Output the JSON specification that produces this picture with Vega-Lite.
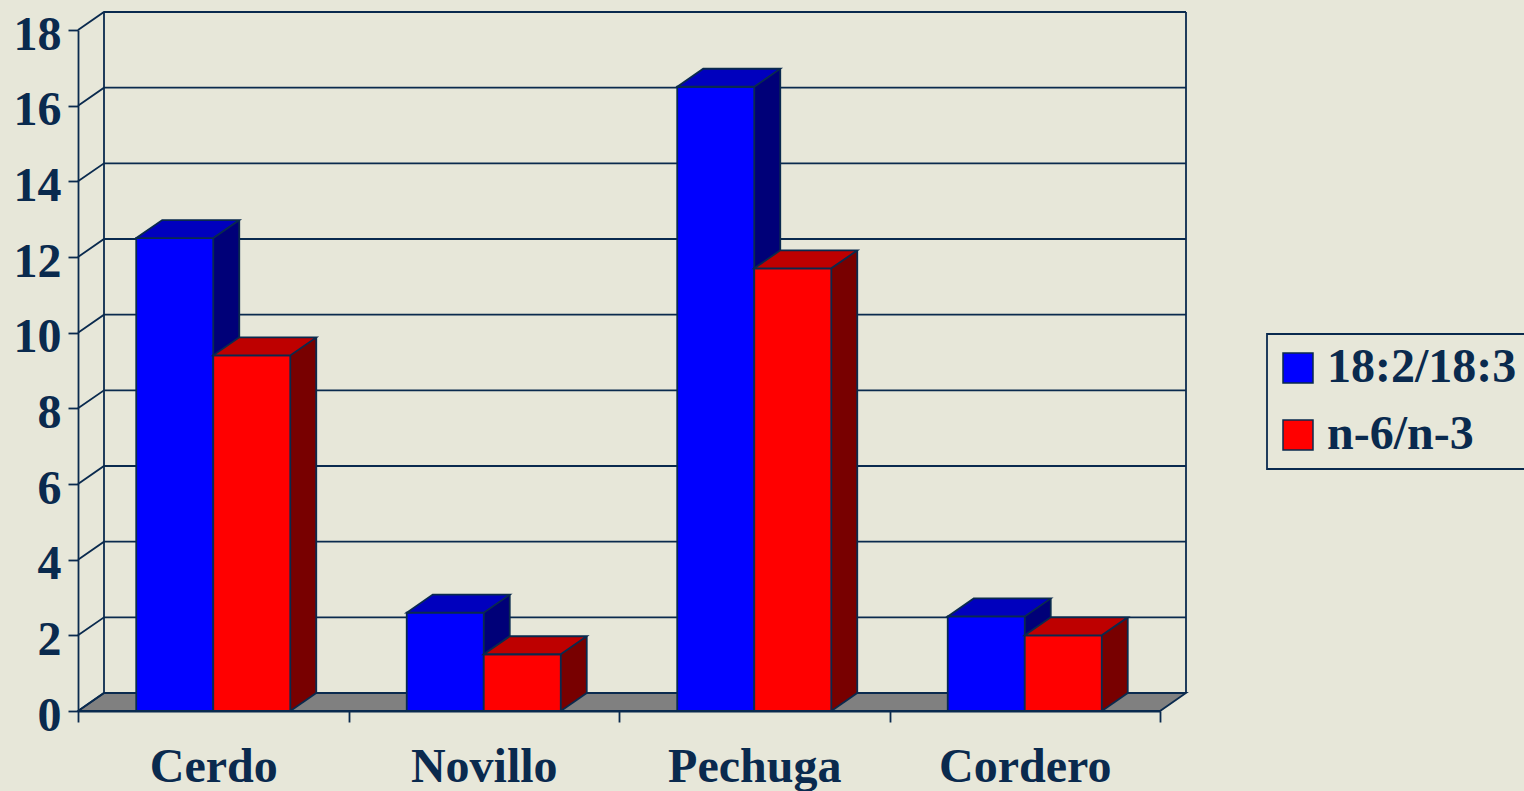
{
  "$schema": "https://vega.github.io/schema/vega-lite/v6.json",
  "width": 1082,
  "height": 681,
  "autosize": "none",
  "padding": {"left": 78, "top": 30, "right": 364, "bottom": 80},
  "background": "#E7E7D9",
  "config": {
    "view": {"stroke": null},
    "axisX": {"domainColor": "#0A2A4E", "domainWidth": 1.8, "tickColor": "#0A2A4E", "tickWidth": 1.8, "tickSize": 11, "tickBand": "extent", "labelFont": "Liberation Serif", "labelFontWeight": "bold", "labelFontSize": 48, "labelColor": "#0A2A4E", "labelPadding": 21, "labelAngle": 0, "grid": false},
    "axisY": {"domainColor": "#0A2A4E", "domainWidth": 1.8, "tickColor": "#0A2A4E", "tickWidth": 1.8, "tickSize": 10, "labelFont": "Liberation Serif", "labelFontWeight": "bold", "labelFontSize": 48, "labelColor": "#0A2A4E", "labelPadding": 7, "labelOffset": 5, "tickCount": 9, "grid": false, "labelOverlap": false, "labelFlush": false},
    "legend": {"padding": 10, "strokeColor": "#0A2A4E", "strokeWidth": 1.8, "symbolType": "square", "symbolSize": 900, "symbolStrokeColor": "#0A2A4E", "symbolStrokeWidth": 1.5, "symbolOpacity": 1, "symbolOffset": -3, "labelFont": "Liberation Serif", "labelFontWeight": "bold", "labelFontSize": 48, "labelColor": "#0A2A4E", "labelOffset": 5, "rowPadding": 19, "labelLimit": 0}
  },
  "datasets": {
    "bars": [
      {"cat": "Cerdo", "series": "18:2/18:3", "value": 12.5},
      {"cat": "Cerdo", "series": "n-6/n-3", "value": 9.4},
      {"cat": "Novillo", "series": "18:2/18:3", "value": 2.6},
      {"cat": "Novillo", "series": "n-6/n-3", "value": 1.5},
      {"cat": "Pechuga", "series": "18:2/18:3", "value": 16.5},
      {"cat": "Pechuga", "series": "n-6/n-3", "value": 11.7},
      {"cat": "Cordero", "series": "18:2/18:3", "value": 2.5},
      {"cat": "Cordero", "series": "n-6/n-3", "value": 2.0}
    ],
    "ticks": [{"v": 0}, {"v": 2}, {"v": 4}, {"v": 6}, {"v": 8}, {"v": 10}, {"v": 12}, {"v": 14}, {"v": 16}, {"v": 18}],
    "one": [{"k": 1}]
  },
  "layer": [
    {
      "data": {"name": "one"},
      "mark": {"type": "point", "shape": "M0,0L1082,0L1108,-18L26,-18Z", "size": 4, "filled": true, "fill": "#808080", "stroke": "#0A2A4E", "strokeWidth": 1.8, "opacity": 1},
      "encoding": {
        "x": {"datum": "Cerdo", "bandPosition": 0, "title": null, "scale": {"domain": ["Cerdo", "Novillo", "Pechuga", "Cordero"], "paddingInner": 0, "paddingOuter": 0}},
        "y": {"datum": 0, "type": "quantitative", "title": null, "scale": {"domain": [0, 18], "nice": false}}
      }
    },
    {
      "data": {"name": "ticks"},
      "mark": {"type": "point", "shape": "M0,0L26,-18L1108,-18", "size": 4, "filled": false, "stroke": "#0A2A4E", "strokeWidth": 1.8, "opacity": 1},
      "encoding": {
        "x": {"datum": "Cerdo", "bandPosition": 0, "title": null},
        "y": {"field": "v", "type": "quantitative", "title": null}
      }
    },
    {
      "data": {"name": "one"},
      "mark": {"type": "rule", "stroke": "#0A2A4E", "strokeWidth": 1.8, "xOffset": 26, "yOffset": -18, "y2Offset": -18},
      "encoding": {
        "x": {"datum": "Cerdo", "bandPosition": 0, "title": null},
        "y": {"datum": 0, "type": "quantitative", "title": null},
        "y2": {"datum": 18}
      }
    },
    {
      "data": {"name": "one"},
      "mark": {"type": "rule", "stroke": "#0A2A4E", "strokeWidth": 1.8, "xOffset": 26, "yOffset": -18, "y2Offset": -18},
      "encoding": {
        "x": {"datum": "Cordero", "bandPosition": 1, "title": null},
        "y": {"datum": 0, "type": "quantitative", "title": null},
        "y2": {"datum": 18}
      }
    },
    {
      "data": {"name": "bars"},
      "transform": [{"filter": "datum.series === '18:2/18:3'"}],
      "mark": {"type": "bar", "width": 26, "xOffset": 13, "yOffset": -18, "y2Offset": -18, "strokeWidth": 0, "fill": "#000078", "opacity": 1},
      "encoding": {
        "x": {"field": "cat", "type": "nominal", "title": null},
        "y": {"field": "value", "type": "quantitative", "title": null, "stack": null},
        "y2": {"datum": 0}
      }
    },
    {
      "data": {"name": "bars"},
      "transform": [{"filter": "datum.series === 'n-6/n-3'"}],
      "mark": {"type": "bar", "width": 26, "xOffset": 90, "yOffset": -18, "y2Offset": -18, "strokeWidth": 0, "fill": "#780000", "opacity": 1},
      "encoding": {
        "x": {"field": "cat", "type": "nominal", "title": null},
        "y": {"field": "value", "type": "quantitative", "title": null, "stack": null},
        "y2": {"datum": 0}
      }
    },
    {
      "data": {"name": "bars"},
      "mark": {"type": "point", "shape": "M38,0.5L65,-18.5L38,-19Z", "size": 4, "filled": true, "strokeWidth": 0, "opacity": 1},
      "encoding": {
        "x": {"field": "cat", "type": "nominal", "title": null},
        "xOffset": {"field": "series", "type": "nominal", "sort": ["18:2/18:3", "n-6/n-3"], "scale": {"paddingInner": 0, "paddingOuter": 0.756}},
        "y": {"datum": 0, "type": "quantitative", "title": null},
        "fill": {"condition": {"test": "datum.series === 'n-6/n-3'", "value": "#780000"}, "value": "#000078"}
      }
    },
    {
      "data": {"name": "bars"},
      "transform": [{"filter": "datum.series === '18:2/18:3'"}],
      "mark": {"type": "rule", "stroke": "#0A2A4E", "strokeWidth": 1.8, "xOffset": 26, "yOffset": -18, "y2Offset": -18},
      "encoding": {
        "x": {"field": "cat", "type": "nominal", "title": null},
        "y": {"field": "value", "type": "quantitative", "title": null, "stack": null},
        "y2": {"datum": 0}
      }
    },
    {
      "data": {"name": "bars"},
      "transform": [{"filter": "datum.series === 'n-6/n-3'"}],
      "mark": {"type": "rule", "stroke": "#0A2A4E", "strokeWidth": 1.8, "xOffset": 103, "yOffset": -18, "y2Offset": -18},
      "encoding": {
        "x": {"field": "cat", "type": "nominal", "title": null},
        "y": {"field": "value", "type": "quantitative", "title": null, "stack": null},
        "y2": {"datum": 0}
      }
    },
    {
      "data": {"name": "bars"},
      "mark": {"type": "point", "shape": "M38.5,0L64.5,-18", "size": 4, "filled": false, "stroke": "#0A2A4E", "strokeWidth": 1.8, "opacity": 1},
      "encoding": {
        "x": {"field": "cat", "type": "nominal", "title": null},
        "xOffset": {"field": "series", "type": "nominal", "sort": ["18:2/18:3", "n-6/n-3"]},
        "y": {"datum": 0, "type": "quantitative", "title": null}
      }
    },
    {
      "data": {"name": "bars"},
      "mark": {"type": "bar", "stroke": "#0A2A4E", "strokeWidth": 1.8, "opacity": 1},
      "encoding": {
        "x": {"field": "cat", "type": "nominal", "title": null},
        "xOffset": {"field": "series", "type": "nominal", "sort": ["18:2/18:3", "n-6/n-3"]},
        "y": {"field": "value", "type": "quantitative", "title": null, "stack": null},
        "y2": {"datum": 0},
        "fill": {"field": "series", "type": "nominal", "scale": {"domain": ["18:2/18:3", "n-6/n-3"], "range": ["#0000FF", "#FF0000"]}, "legend": {"title": null, "orient": "none", "legendX": 1189, "legendY": 304}}
      }
    },
    {
      "data": {"name": "bars"},
      "mark": {"type": "point", "shape": "M-38.5,0L-12.5,-18L64.5,-18L38.5,0Z", "size": 4, "filled": true, "stroke": "#0A2A4E", "strokeWidth": 1.8, "opacity": 1},
      "encoding": {
        "x": {"field": "cat", "type": "nominal", "title": null},
        "xOffset": {"field": "series", "type": "nominal", "sort": ["18:2/18:3", "n-6/n-3"]},
        "y": {"field": "value", "type": "quantitative", "title": null, "stack": null},
        "fill": {"condition": {"test": "datum.series === 'n-6/n-3'", "value": "#BE0000"}, "value": "#0000BE"}
      }
    }
  ]
}
